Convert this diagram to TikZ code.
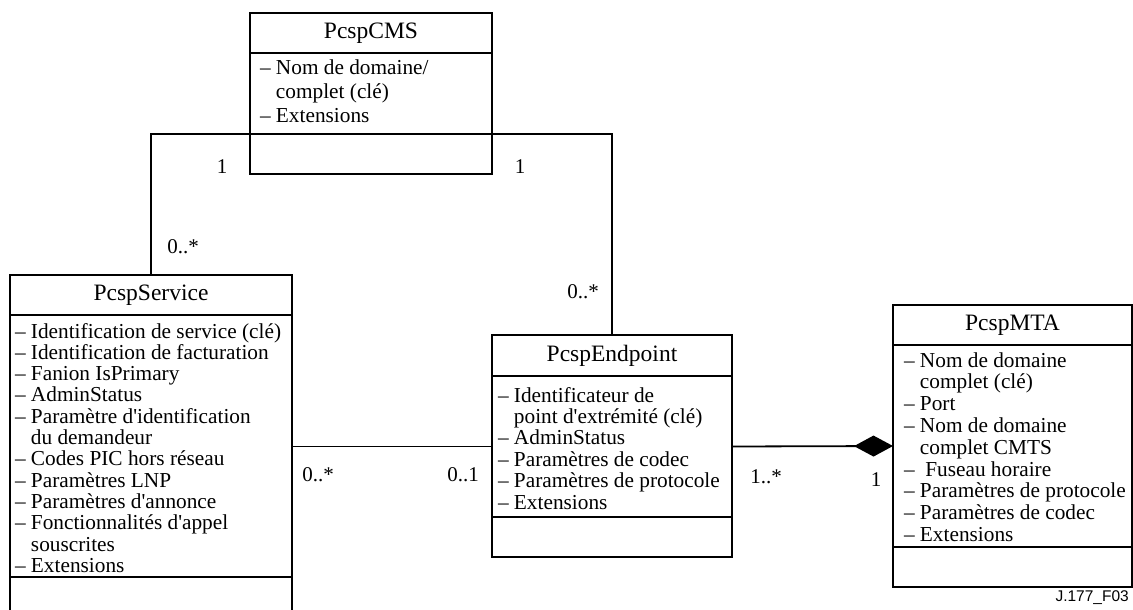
\documentclass[tikz,border=0pt]{standalone}
\usepackage{fontspec}
\setmainfont{Liberation Serif}[Ligatures=TeXOff]
\newfontfamily\figsans{Liberation Sans}
\usetikzlibrary{calc,arrows.meta}

% strut fixing the height of the first attribute line
\newcommand{\firstln}{\rule{0pt}{15pt}}
% hanging indent for continuation lines
\newcommand{\hang}{\phantom{– }}

\tikzset{
  cls/.style={draw=black, line width=1.1pt, inner sep=0pt, outer sep=0pt, anchor=north west},
  title/.style={cls, font=\fontsize{23.5}{26}\selectfont},
  attrs/.style={inner sep=0pt, outer sep=0pt, anchor=north west, align=left,
                font=\fontsize{21.3}{21.4}\selectfont},
  divider/.style={line width=2.2pt},
  link/.style={line width=1.8pt},
  composition/.style={-{Diamond[length=39pt,width=21pt]}},
  mult/.style={inner sep=0pt, font=\fontsize{21}{24}\selectfont},
}

\begin{document}
\begin{tikzpicture}[x=1pt,y=-1pt]
\useasboundingbox (0,0) rectangle (1133,610);

% ---------------- PcspCMS ----------------
\node[title, minimum width=242, minimum height=40] (cmsT) at (250,13) {PcspCMS};
\node[cls, minimum width=242, minimum height=81] (cmsA) at (cmsT.south west) {};
\node[cls, minimum width=242, minimum height=40] (cmsO) at (cmsA.south west) {};
\draw[divider] (cmsT.south west) -- (cmsT.south east);
\node[attrs, font=\fontsize{21.3}{24.4}\selectfont] (cmsL) at ($(cmsA.north west)+(10,6)$)
  {\firstln– Nom de domaine/\\ \hang complet (clé)\\ – Extensions};

% ---------------- PcspService ----------------
\node[title, minimum width=282, minimum height=40] (svcT) at (10,275) {PcspService};
\node[cls, minimum width=282, minimum height=262] (svcA) at (svcT.south west) {};
\node[cls, minimum width=282, minimum height=40] (svcO) at (svcA.south west) {};
\draw[divider] (svcT.south west) -- (svcT.south east);
\draw[divider] (svcA.south west) -- (svcA.south east);
\node[attrs, font=\fontsize{21.3}{21.3}\selectfont] (svcL) at ($(svcA.north west)+(5,8)$)
  {\firstln– Identification de service (clé)\\
   – Identification de facturation\\
   – Fanion IsPrimary\\
   – AdminStatus\\
   – Paramètre d'identification\\
   \hang du demandeur\\
   – Codes PIC hors réseau\\
   – Paramètres LNP\\
   – Paramètres d'annonce\\
   – Fonctionnalités d'appel\\
   \hang souscrites\\
   – Extensions};

% ---------------- PcspEndpoint ----------------
\node[title, minimum width=240, minimum height=41] (epT) at (492,335) {PcspEndpoint};
\node[cls, minimum width=240, minimum height=141] (epA) at (epT.south west) {};
\node[cls, minimum width=240, minimum height=40] (epO) at (epA.south west) {};
\draw[divider] (epT.south west) -- (epT.south east);
\draw[divider] (epA.south west) -- (epA.south east);
\node[attrs] (epL) at ($(epA.north west)+(6,11)$)
  {\firstln– Identificateur de\\
   \hang point d'extrémité (clé)\\
   – AdminStatus\\
   – Paramètres de codec\\
   – Paramètres de protocole\\
   – Extensions};

% ---------------- PcspMTA ----------------
\node[title, minimum width=239, minimum height=40] (mtaT) at (893,305) {PcspMTA};
\node[cls, minimum width=239, minimum height=202] (mtaA) at (mtaT.south west) {};
\node[cls, minimum width=239, minimum height=40] (mtaO) at (mtaA.south west) {};
\draw[divider] (mtaT.south west) -- (mtaT.south east);
\draw[divider] (mtaA.south west) -- (mtaA.south east);
\node[attrs, font=\fontsize{21.3}{21.8}\selectfont] (mtaL) at ($(mtaA.north west)+(11,7)$)
  {\firstln– Nom de domaine\\
   \hang complet (clé)\\
   – Port\\
   – Nom de domaine\\
   \hang complet CMTS\\
   –\ \ Fuseau horaire\\
   – Paramètres de protocole\\
   – Paramètres de codec\\
   – Extensions};

% ---------------- associations ----------------
\draw[link] (svcT.north) |- (cmsO.north west);
\draw[link] (cmsO.north west) -- (cmsO.north east);
\draw[link] (epT.north) |- (cmsO.north east);
\draw[link] (epA.west -| svcA.east) -- (epA.west);
\draw[link, composition] (epA.east) -- (mtaA.west);

% ---------------- multiplicities ----------------
\node[mult] (mCmsSvc) at (222,167) {1};
\node[mult] (mCmsEp) at (520,167) {1};
\node[mult] (mSvcCms) at (183,247) {0..*};
\node[mult] (mEpCms) at (583,292) {0..*};
\node[mult] (mSvcEp) at (318,475) {0..*};
\node[mult] (mEpSvc) at (463,475) {0..1};
\node[mult] (mEpMta) at (766,477) {1..*};
\node[mult] (mMtaEp) at (876,480) {1};

% figure reference
\node[inner sep=0pt, anchor=east, font=\figsans\fontsize{15.5}{18}\selectfont] (figid)
  at (1129,598) {J.177\_F03};
\end{tikzpicture}
\end{document}
